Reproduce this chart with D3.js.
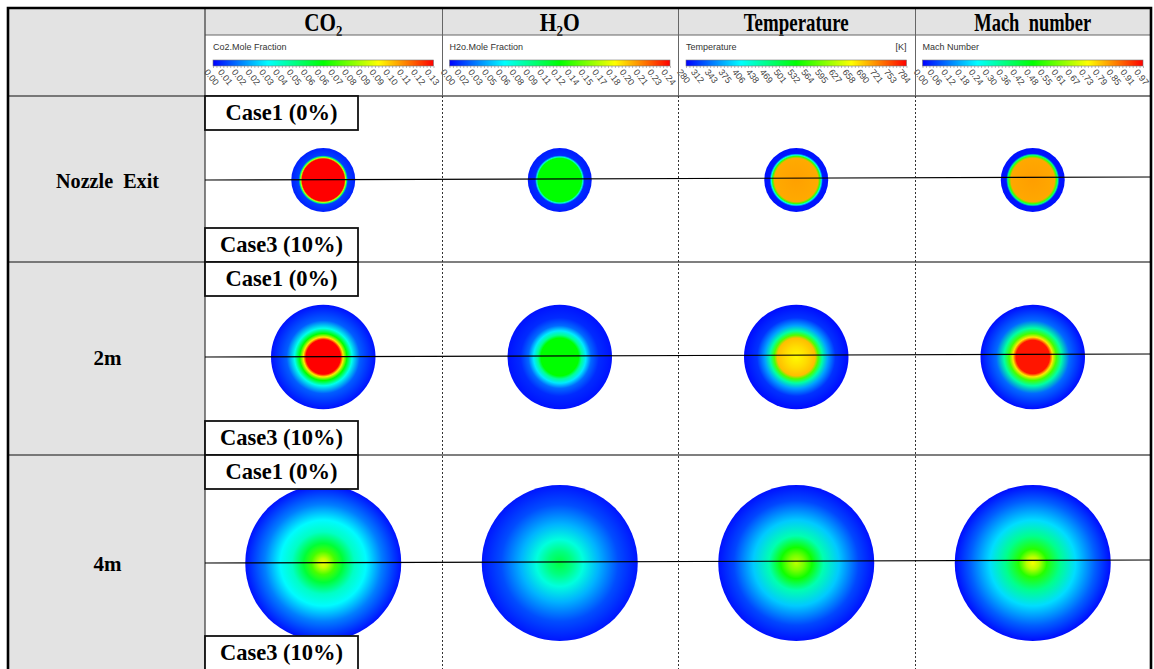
<!DOCTYPE html>
<html>
<head>
<meta charset="utf-8">
<script src="https://cdn.jsdelivr.net/npm/d3@7"></script>
<style>
  body { margin: 0; background: #fff; }
  .serif { font-family: "Liberation Serif", "Times New Roman", serif; font-weight: bold; fill: #000; }
  .sans  { font-family: "Liberation Sans", Arial, sans-serif; fill: #333; }
</style>
</head>
<body>
<div id="chart"></div>
<script>
/* DATA */
const variables  = ["CO₂", "H₂O", "Temperature", "Mach  number"];
const barTitles  = ["Co2.Mole Fraction", "H2o.Mole Fraction", "Temperature", "Mach Number"];
const barUnits   = ["", "", "[K]", ""];

const co2Ticks  = ["0.00","0.01","0.02","0.02","0.03","0.04","0.05","0.06","0.06","0.07","0.08","0.09","0.09","0.10","0.11","0.12","0.13"];
const h2oTicks  = ["0.00","0.02","0.03","0.05","0.06","0.08","0.09","0.11","0.12","0.14","0.15","0.17","0.18","0.20","0.21","0.23","0.24"];
const tempTicks = ["280","312","343","375","406","438","469","501","532","564","595","627","658","690","721","753","784"];
const machTicks = ["0.00","0.06","0.12","0.18","0.24","0.30","0.36","0.42","0.48","0.55","0.61","0.67","0.73","0.79","0.85","0.91","0.97"];
const tickSets  = [co2Ticks, h2oTicks, tempTicks, machTicks];

const rowLabels   = ["Nozzle  Exit", "2m", "4m"];
const plumeRadius = [0.41, 0.67, 1.0];          // plume size relative to the 4 m section
const caseTop     = "Case1 (0%)";
const caseBottom  = "Case3 (10%)";

// radial profiles per section: [r / R, value]
const profileCO2 = [
  [[0,0.13],[0.66,0.13],[0.70,0.09],[0.73,0.05],[0.77,0.008],[1,0.004]],
  [[0,0.13],[0.33,0.13],[0.38,0.10],[0.45,0.065],[0.55,0.035],[0.70,0.012],[1,0.002]],
  [[0,0.096],[0.06,0.090],[0.15,0.074],[0.25,0.058],[0.40,0.040],[0.55,0.032],[0.75,0.016],[1,0.002]]
];
const profileH2O = [
  [[0,0.12],[0.68,0.12],[0.72,0.07],[0.77,0.01],[1,0.006]],
  [[0,0.12],[0.36,0.12],[0.42,0.085],[0.50,0.055],[0.60,0.025],[0.75,0.010],[1,0.004]],
  [[0,0.105],[0.15,0.090],[0.30,0.068],[0.50,0.042],[0.75,0.018],[1,0.005]]
];
const profileTemp = [
  [[0,705],[0.68,700],[0.74,560],[0.78,420],[0.83,292],[1,288]],
  [[0,660],[0.20,675],[0.36,690],[0.42,570],[0.50,450],[0.60,360],[0.75,305],[1,285]],
  [[0,625],[0.10,590],[0.20,540],[0.35,445],[0.55,380],[0.80,315],[1,288]]
];
const profileMach = [
  [[0,0.82],[0.68,0.81],[0.74,0.55],[0.78,0.35],[0.83,0.02],[1,0.015]],
  [[0,0.95],[0.32,0.95],[0.38,0.75],[0.45,0.55],[0.55,0.33],[0.70,0.10],[1,0.01]],
  [[0,0.72],[0.08,0.66],[0.18,0.52],[0.35,0.35],[0.55,0.21],[0.80,0.09],[1,0.01]]
];
const profiles = [profileCO2, profileH2O, profileTemp, profileMach];

/* LAYOUT */
const W = 1154, H = 669;
const edgeL = 8, labelRight = 205, edgeR = 1151, edgeT = 8;
const headerBottom = 35, barRowBottom = 96;
const rowEdges = [96, 262, 455, 670];
const rowMid = [180, 357, 563];
const gray = "#e3e3e3";

const svg = d3.select("#chart").append("svg")
  .attr("width", W).attr("height", H);
const defs = svg.append("defs");

const col = d3.scaleBand().domain(variables).range([labelRight, edgeR]);
const rScale = d3.scaleLinear().domain([0, 1]).range([0, 78]);

// rainbow colour map used by the contour plots
const rainbow = d3.scaleLinear()
  .domain([0, 0.25, 0.5, 0.75, 1])
  .range(["#0000ff", "#00ffff", "#00ff00", "#ffff00", "#ff0000"]);

/* BACKGROUNDS */
svg.append("rect").attr("x", edgeL).attr("y", edgeT)
  .attr("width", edgeR - edgeL).attr("height", headerBottom - edgeT).attr("fill", gray);
svg.append("rect").attr("x", edgeL).attr("y", edgeT)
  .attr("width", labelRight - edgeL).attr("height", H - edgeT).attr("fill", gray);

/* HEADER TITLES */
const headerWidths = [38, 40, 105, 117];
variables.forEach((v, i) => {
  svg.append("text").attr("class", "serif")
    .attr("x", col(v) + col.bandwidth() / 2).attr("y", 31)
    .attr("text-anchor", "middle")
    .style("font-size", "26px").style("white-space", "pre")
    .attr("textLength", headerWidths[i]).attr("lengthAdjust", "spacingAndGlyphs")
    .text(v);
});

/* COLOUR BARS */
variables.forEach((v, i) => {
  const x0 = col(v) + 8, x1 = col(v) + col.bandwidth() - 8;
  const g = svg.append("g");
  const ticks = tickSets[i];
  const pos = d3.scaleLinear().domain([0, ticks.length - 1]).range([x0, x1]);

  g.append("text").attr("class", "sans")
    .attr("x", x0).attr("y", 50).style("font-size", "9px").text(barTitles[i]);
  if (barUnits[i]) {
    g.append("text").attr("class", "sans")
      .attr("x", x1).attr("y", 50).attr("text-anchor", "end")
      .style("font-size", "9px").text(barUnits[i]);
  }

  const gid = "bar" + i;
  const lg = defs.append("linearGradient").attr("id", gid);
  d3.range(0, 1.001, 0.125).forEach(t => {
    lg.append("stop").attr("offset", (t * 100) + "%").attr("stop-color", rainbow(t));
  });
  g.append("rect").attr("x", x0).attr("y", 60)
    .attr("width", x1 - x0).attr("height", 6)
    .attr("fill", `url(#${gid})`).attr("stroke", "#777").attr("stroke-width", 0.6);

  // minor ticks under the bar
  g.append("g").attr("transform", "translate(0,66)")
    .call(d3.axisBottom(pos).tickValues(d3.range(0, ticks.length - 0.99, 0.25))
      .tickSize(2).tickFormat(""))
    .call(a => a.select(".domain").remove())
    .call(a => a.selectAll("line").attr("stroke", "#888").attr("stroke-width", 0.6));

  g.selectAll(".tl").data(ticks).enter().append("text")
    .attr("class", "sans")
    .attr("transform", (d, k) => `translate(${pos(k) - 4},68) rotate(52)`)
    .attr("dy", "0.75em")
    .style("font-size", "9px").style("fill", "#444")
    .text(d => d);
});

/* PLUMES */
rowLabels.forEach((lab, r) => {
  variables.forEach((v, i) => {
    const prof = profiles[i][r];
    const ticks = tickSets[i];
    const norm = d3.scaleLinear().domain([+ticks[0], +ticks[ticks.length - 1]]).range([0, 1]).clamp(true);
    const gid = `pl${r}_${i}`;
    const rg = defs.append("radialGradient").attr("id", gid)
      .attr("cx", "50%").attr("cy", "50%").attr("r", "50%");
    prof.forEach(p => {
      rg.append("stop").attr("offset", (p[0] * 100) + "%")
        .attr("stop-color", rainbow(norm(p[1])));
    });
    svg.append("circle")
      .attr("cx", col(v) + col.bandwidth() / 2)
      .attr("cy", rowMid[r])
      .attr("r", rScale(plumeRadius[r]))
      .attr("fill", `url(#${gid})`);
  });
});

/* GRID LINES */
svg.append("line").attr("x1", labelRight).attr("x2", edgeR)
  .attr("y1", headerBottom).attr("y2", headerBottom)
  .attr("stroke", "#666").attr("stroke-width", 1.2);
rowEdges.slice(0, 3).forEach(y => {
  svg.append("line").attr("x1", edgeL).attr("x2", edgeR).attr("y1", y).attr("y2", y)
    .attr("stroke", "#555").attr("stroke-width", 1.5);
});
svg.append("line").attr("x1", labelRight).attr("x2", labelRight)
  .attr("y1", edgeT).attr("y2", H).attr("stroke", "#444").attr("stroke-width", 1.3);
variables.slice(1).forEach(v => {
  const x = Math.round(col(v)) + 0.5;
  svg.append("line").attr("x1", x).attr("x2", x).attr("y1", edgeT).attr("y2", barRowBottom)
    .attr("stroke", "#666").attr("stroke-width", 1);
  svg.append("line").attr("x1", x).attr("x2", x).attr("y1", barRowBottom).attr("y2", H)
    .attr("stroke", "#333").attr("stroke-width", 1).attr("stroke-dasharray", "2,2");
});

/* CENTRE LINES */
rowMid.forEach(y => {
  svg.append("line").attr("x1", labelRight).attr("x2", edgeR)
    .attr("y1", y).attr("y2", y - 3)
    .attr("stroke", "#000").attr("stroke-width", 1.2);
});

/* ROW LABELS */
const rowLabelWidths = [103, 28, 28];
rowLabels.forEach((lab, r) => {
  svg.append("text").attr("class", "serif")
    .attr("x", (edgeL + labelRight) / 2 + 1).attr("y", rowMid[r] + 8)
    .attr("text-anchor", "middle")
    .style("font-size", "22px").style("white-space", "pre")
    .attr("textLength", rowLabelWidths[r]).attr("lengthAdjust", "spacingAndGlyphs")
    .text(lab);
});

/* CASE BOXES */
const boxW = 153, boxH = 34;
rowLabels.forEach((lab, r) => {
  [[rowEdges[r], caseTop], [rowEdges[r + 1] - boxH, caseBottom]].forEach(([y, txt]) => {
    svg.append("rect").attr("x", labelRight).attr("y", y)
      .attr("width", boxW).attr("height", boxH)
      .attr("fill", "#fff").attr("stroke", "#111").attr("stroke-width", 1.8);
    svg.append("text").attr("class", "serif")
      .attr("x", labelRight + boxW / 2).attr("y", y + 24)
      .attr("text-anchor", "middle").style("font-size", "22.5px")
      .text(txt);
  });
});

/* OUTER BORDER */
svg.append("path")
  .attr("d", `M${edgeL},${H} V${edgeT} H${edgeR} V${H}`)
  .attr("fill", "none").attr("stroke", "#000").attr("stroke-width", 2.6);
</script>
</body>
</html>
